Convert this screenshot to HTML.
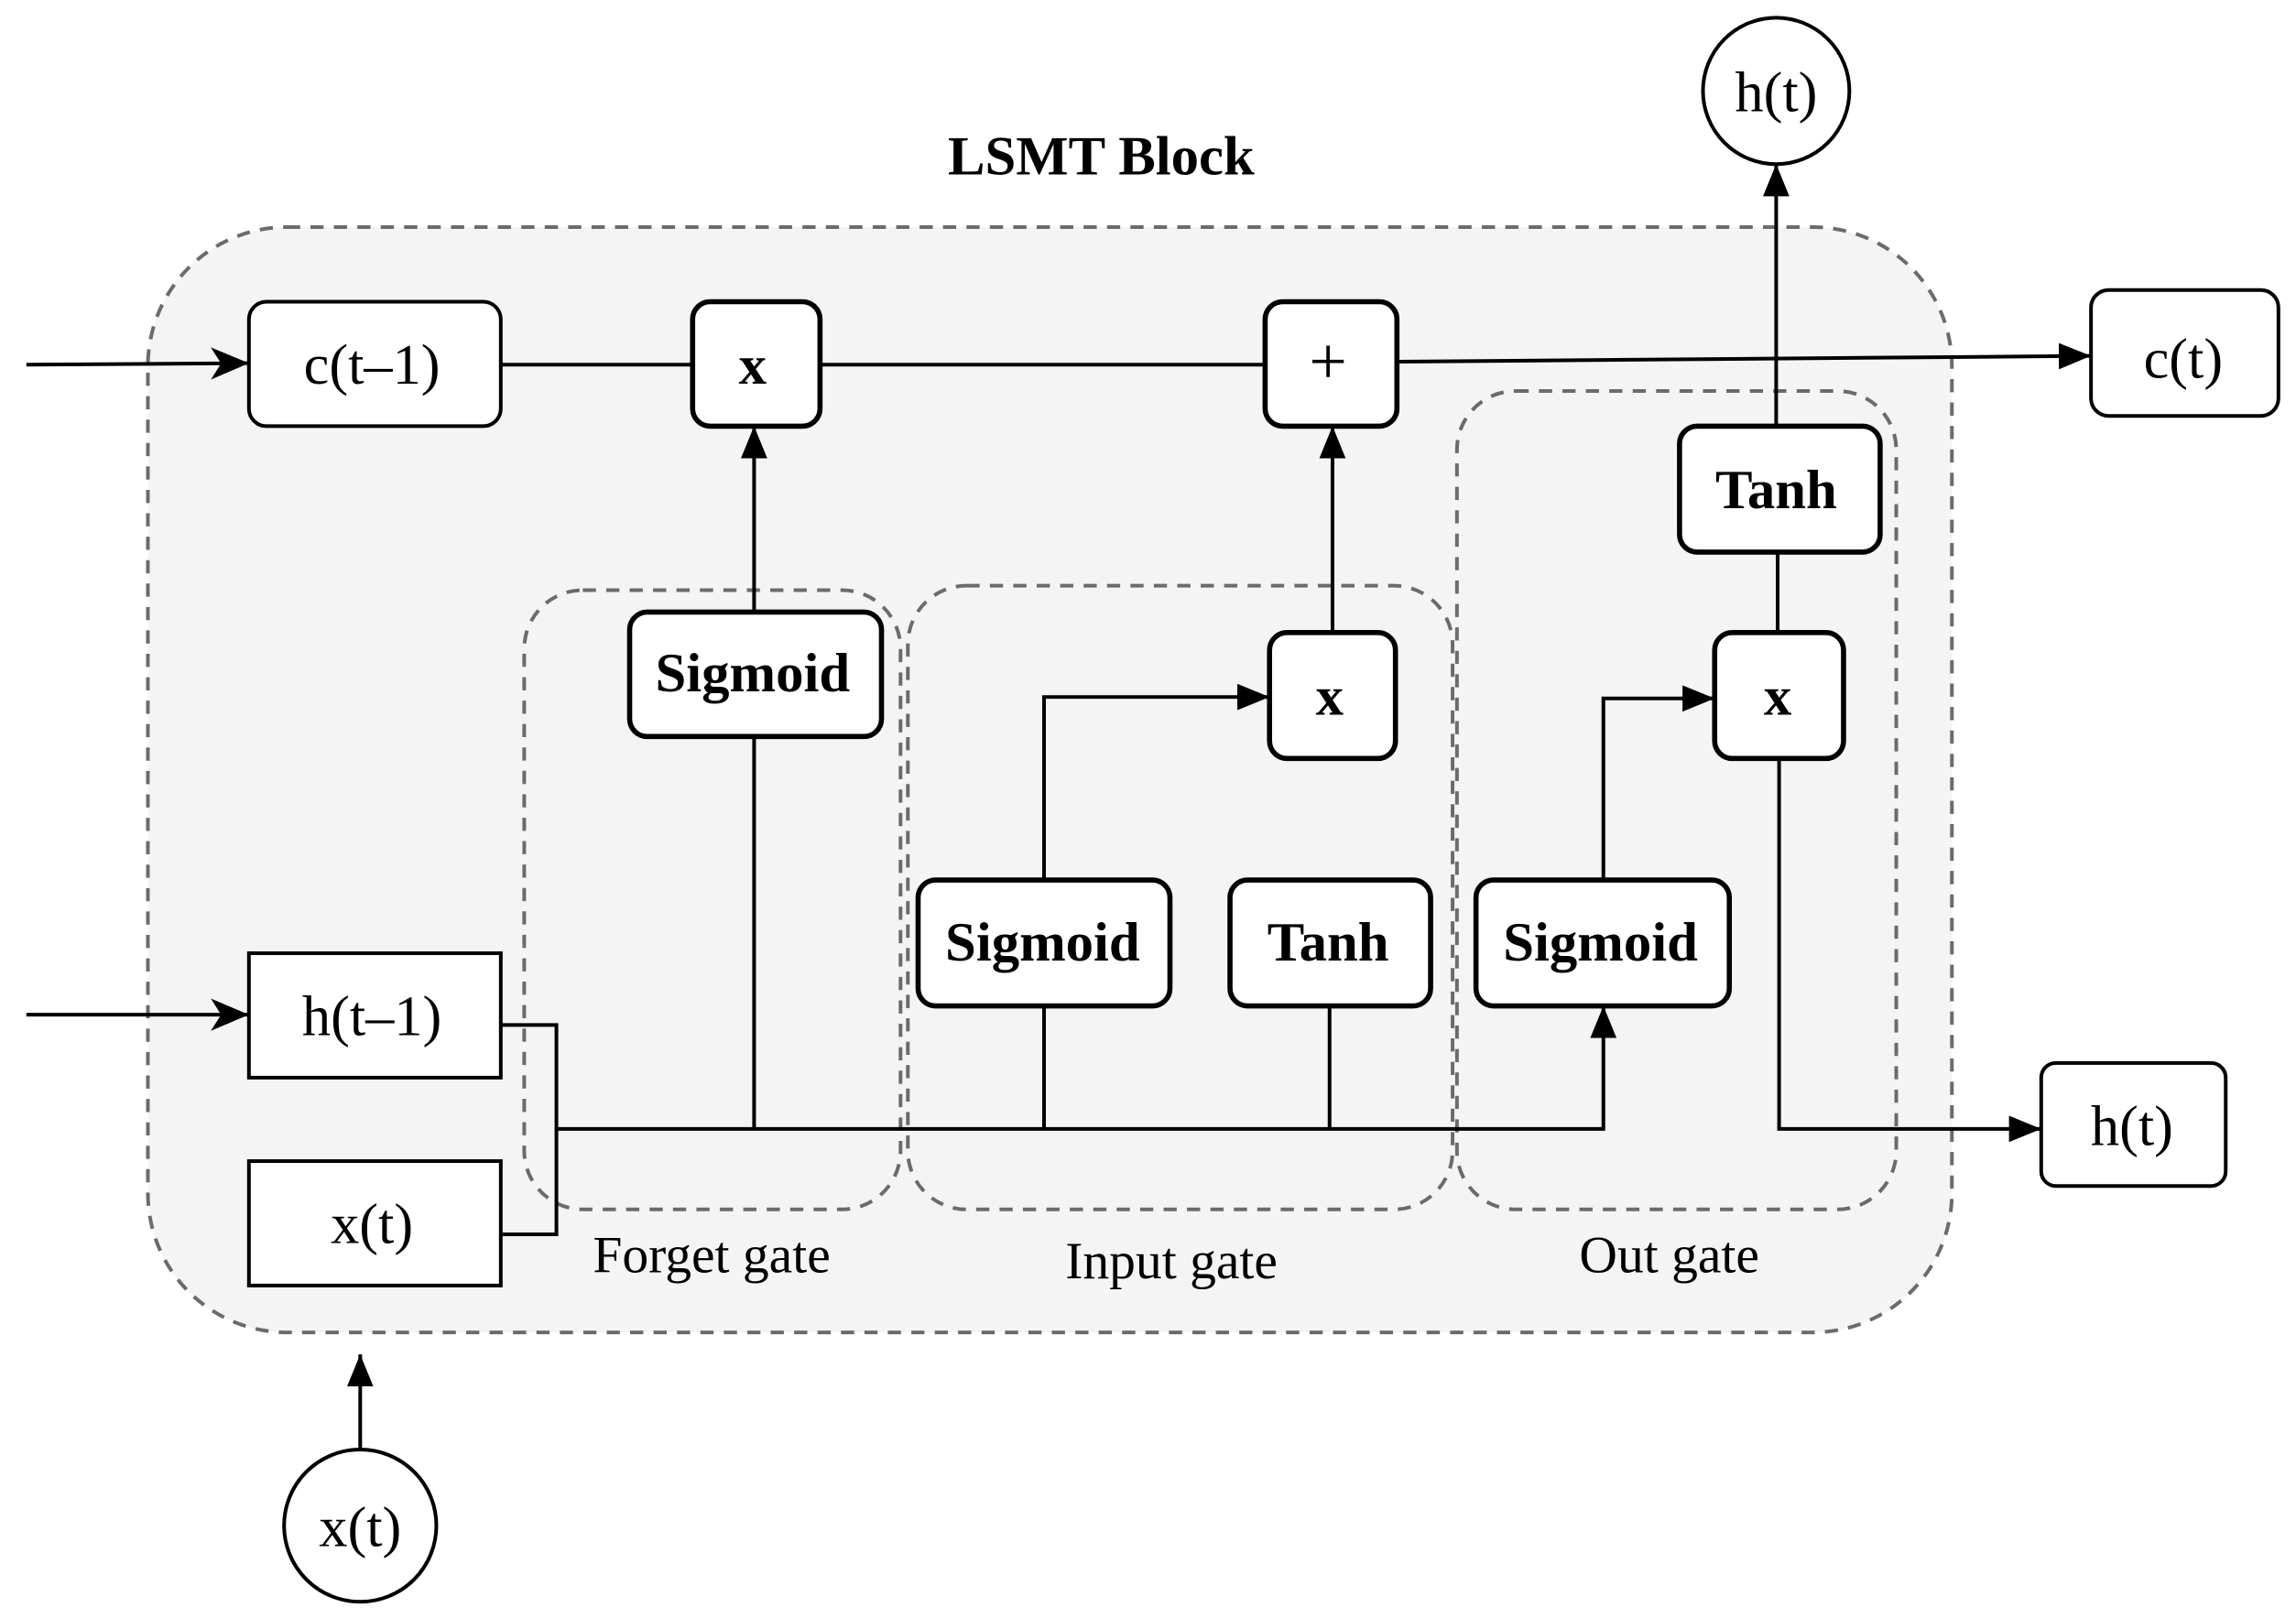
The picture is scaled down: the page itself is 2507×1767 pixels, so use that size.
<!DOCTYPE html>
<html><head><meta charset="utf-8"><style>
html,body{margin:0;padding:0;background:#fff;}
svg{display:block;}
text{font-family:"Liberation Serif",serif;fill:#000;}
</style></head><body>
<svg width="2507" height="1767" viewBox="0 0 1568 1105" xmlns="http://www.w3.org/2000/svg">
<defs>
<marker id="b" viewBox="0 0 26 22" refX="26" refY="11" markerWidth="26" markerHeight="22" markerUnits="userSpaceOnUse" orient="auto"><path d="M0,0 L26,11 L0,22 L7,11 z" fill="#000"/></marker>
<marker id="c" viewBox="0 0 22 18" refX="22" refY="9" markerWidth="22" markerHeight="18" markerUnits="userSpaceOnUse" orient="auto"><path d="M0,0 L22,9 L0,18 z" fill="#000"/></marker>
</defs>
<text x="752" y="119" font-size="38" font-weight="bold" text-anchor="middle">LSMT Block</text>
<rect x="101" y="155" width="1232" height="755" rx="95" fill="#f4f4f4" stroke="#6b6b6b" stroke-width="2.5" stroke-dasharray="9,7"/>
<g fill="none" stroke="#6b6b6b" stroke-width="2.5" stroke-dasharray="9,7">
<rect x="358" y="403" width="257" height="423" rx="40"/>
<rect x="620" y="400" width="372" height="426" rx="40"/>
<rect x="995" y="267" width="300" height="559" rx="40"/>
</g>
<g stroke="#000" stroke-width="2.5" fill="none">
<line x1="18" y1="249" x2="170" y2="248" marker-end="url(#b)"/>
<line x1="342" y1="249" x2="473" y2="249"/>
<line x1="560" y1="249" x2="864" y2="249"/>
<line x1="954" y1="247" x2="1428" y2="243" marker-end="url(#c)"/>
<line x1="1213" y1="291" x2="1213" y2="112" marker-end="url(#c)"/>
<line x1="18" y1="693" x2="170" y2="693" marker-end="url(#b)"/>
<polyline points="342,700 380,700 380,843 342,843"/>
<polyline points="380,771 1095,771 1095,687" marker-end="url(#c)"/>
<line x1="515" y1="771" x2="515" y2="503"/>
<line x1="515" y1="418" x2="515" y2="291" marker-end="url(#c)"/>
<line x1="713" y1="771" x2="713" y2="687"/>
<polyline points="713,601 713,476 867,476" marker-end="url(#c)"/>
<line x1="908" y1="771" x2="908" y2="687"/>
<line x1="910" y1="432" x2="910" y2="291" marker-end="url(#c)"/>
<polyline points="1095,601 1095,477 1171,477" marker-end="url(#c)"/>
<line x1="1214" y1="432" x2="1214" y2="377"/>
<polyline points="1215,518 1215,771 1394,771" marker-end="url(#c)"/>
<line x1="246" y1="990" x2="246" y2="925" marker-end="url(#c)"/>
</g>
<g fill="#fff" stroke="#000">
<rect x="170" y="206" width="172" height="85" rx="12" stroke-width="2.5"/>
<rect x="1428" y="198" width="128" height="86" rx="12" stroke-width="2.5"/>
<rect x="1394" y="726" width="126" height="84" rx="10" stroke-width="2.5"/>
<rect x="170" y="651" width="172" height="85" stroke-width="2.5"/>
<rect x="170" y="793" width="172" height="85" stroke-width="2.5"/>
<circle cx="1213" cy="62" r="50" stroke-width="2.5"/>
<circle cx="246" cy="1042" r="52" stroke-width="2.5"/>
<g stroke-width="3.5">
<rect x="473" y="206" width="87" height="85" rx="12"/>
<rect x="864" y="206" width="90" height="85" rx="12"/>
<rect x="430" y="418" width="172" height="85" rx="12"/>
<rect x="867" y="432" width="86" height="86" rx="12"/>
<rect x="627" y="601" width="172" height="86" rx="12"/>
<rect x="840" y="601" width="137" height="86" rx="12"/>
<rect x="1008" y="601" width="173" height="86" rx="12"/>
<rect x="1171" y="432" width="88" height="86" rx="12"/>
<rect x="1147" y="291" width="137" height="86" rx="12"/>
</g>
</g>
<g font-size="39" text-anchor="middle">
<text x="254" y="262">c(t–1)</text>
<text x="1491" y="258">c(t)</text>
<text x="1456" y="782">h(t)</text>
<text x="254" y="707">h(t–1)</text>
<text x="254" y="849">x(t)</text>
<text x="1213" y="76">h(t)</text>
<text x="246" y="1056">x(t)</text>
<text x="907" y="262" font-size="46">+</text>
</g>
<g font-size="38" font-weight="bold" text-anchor="middle">
<text x="514" y="472">Sigmoid</text>
<text x="712" y="656">Sigmoid</text>
<text x="907" y="656">Tanh</text>
<text x="1093" y="656">Sigmoid</text>
<text x="1213" y="347">Tanh</text>
</g>
<g font-size="38" font-weight="bold" text-anchor="middle">
<text x="514" y="262">x</text>
<text x="908" y="488">x</text>
<text x="1214" y="488">x</text>
</g>
<g font-size="36" text-anchor="middle">
<text x="486" y="869">Forget gate</text>
<text x="800" y="873">Input gate</text>
<text x="1140" y="869">Out gate</text>
</g>
</svg>
</body></html>
